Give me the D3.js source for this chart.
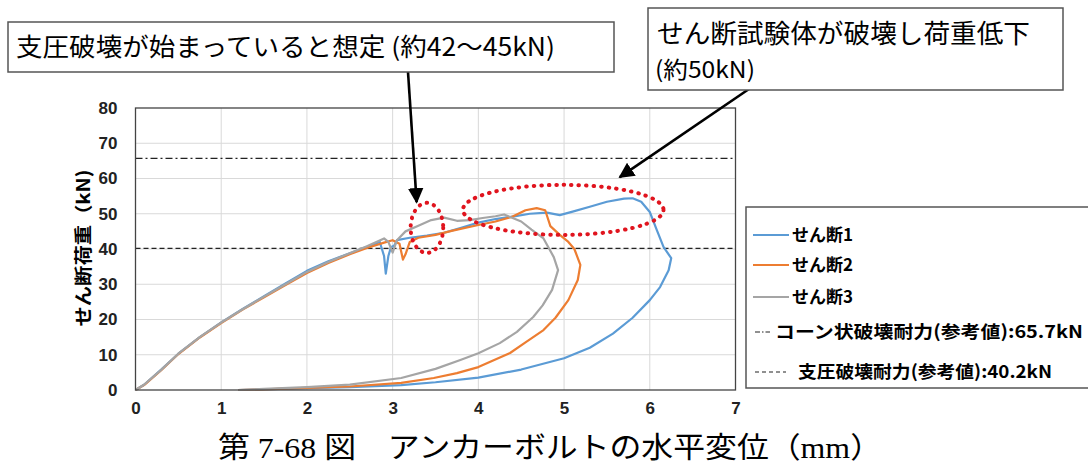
<!DOCTYPE html>
<html lang="ja">
<head>
<meta charset="UTF-8">
<title>アンカーボルトの水平変位</title>
<script src="https://d3js.org/d3.v7.min.js"></script>
<style>
  body { margin: 0; background: #fff; }
  .tick text { font-family: "Liberation Sans Narrow", "Liberation Sans", Arial, sans-serif; font-weight: bold; font-size: 17px; fill: #222; }
  .grid line { stroke: #d9d9d9; stroke-width: 1px; }
  .jp { font-family: "Noto Sans CJK JP", sans-serif; }
</style>
</head>
<body>
<div id="chart"></div>
<script>
// data: [displacement mm, load kN]
const series1 = [[0,0],[0.1,1.5],[0.3,5.8],[0.5,10.3],[0.75,15],[1.0,19.2],[1.25,23],[1.5,26.6],[1.75,30.2],[2.0,33.8],[2.25,36.5],[2.5,38.8],[2.7,40.6],[2.85,42],[2.9,38],[2.92,33],[2.95,38],[2.98,40.5],[3.02,41],[3.05,42.5],[3.2,43.2],[3.4,43.8],[3.6,44.6],[3.8,46],[4.0,47.5],[4.2,48.5],[4.4,49.2],[4.6,50],[4.8,50.3],[4.95,49.6],[5.1,50.6],[5.3,52],[5.5,53.4],[5.7,54.3],[5.8,54.4],[5.9,53.4],[6.0,50.5],[6.08,45.5],[6.16,40.6],[6.25,37.4],[6.22,34],[6.12,29.2],[6.0,25.5],[5.8,20.5],[5.57,16],[5.3,12],[5.0,9],[4.5,5.8],[4.0,3.5],[3.5,2.2],[3.1,1.4],[2.5,0.8],[2.0,0.5],[1.5,0.2],[1.2,0]];
const series2 = [[0,0],[0.1,1.4],[0.3,5.6],[0.5,10.2],[0.75,14.9],[1.0,19],[1.25,22.8],[1.5,26.3],[1.75,29.8],[2.0,33.2],[2.25,36],[2.5,38.5],[2.7,40.3],[2.9,41.8],[3.0,42.5],[3.08,41.5],[3.12,37],[3.15,38.5],[3.2,42],[3.3,43.2],[3.5,44],[3.7,45.2],[4.0,46.8],[4.2,47.8],[4.4,49.2],[4.55,51],[4.68,51.6],[4.78,51],[4.84,46.5],[4.95,44],[5.05,42],[5.12,40],[5.19,35.5],[5.16,31.2],[5.05,25.5],[4.9,20.5],[4.76,17],[4.55,13.5],[4.37,10.5],[4.0,6.5],[3.75,4.8],[3.48,3.4],[3.1,2],[2.5,1.0],[2.0,0.6],[1.5,0.2],[1.2,0]];
const series3 = [[0,0],[0.1,1.5],[0.3,5.7],[0.5,10.3],[0.75,15],[1.0,19.1],[1.25,22.9],[1.5,26.5],[1.75,30],[2.0,33.5],[2.25,36.3],[2.5,38.8],[2.7,40.8],[2.9,43],[2.95,42],[3.0,39],[3.05,42.5],[3.15,45],[3.3,46.6],[3.45,48.2],[3.6,48.9],[3.75,48],[3.9,48.2],[4.05,48.8],[4.2,49.3],[4.3,49.8],[4.4,48.8],[4.5,47.8],[4.62,45.5],[4.76,43],[4.88,37.7],[4.93,34],[4.86,28.4],[4.75,24],[4.64,20.7],[4.45,16.5],[4.25,13.3],[4.0,10.4],[3.79,8.5],[3.5,6],[3.1,3.4],[2.5,1.5],[2.0,0.8],[1.5,0.3],[1.2,0]];
const seriesNames = ["せん断1", "せん断2", "せん断3"];
const seriesColors = ["#5b9bd5", "#ed7d31", "#a5a5a5"];
const xTicks = [0,1,2,3,4,5,6,7];
const yTicks = [0,10,20,30,40,50,60,70,80];
const coneLoad = 65.7;     // コーン状破壊耐力
const bearingLoad = 40.2;  // 支圧破壊耐力

const width = 1088, height = 471;
const plot = { left: 135.5, right: 735.5, top: 108, bottom: 390 };

const svg = d3.select("#chart").append("svg")
    .attr("width", width).attr("height", height)
    .style("display", "block");
svg.append("rect").attr("width", width).attr("height", height).attr("fill", "#fff");

const x = d3.scaleLinear().domain([0, 7]).range([plot.left, plot.right]);
const y = d3.scaleLinear().domain([0, 80]).range([plot.bottom, plot.top]);

// grid
const grid = svg.append("g").attr("class", "grid");
grid.selectAll(".gx").data(xTicks.slice(1, -1)).enter().append("line")
    .attr("x1", d => x(d)).attr("x2", d => x(d))
    .attr("y1", plot.top).attr("y2", plot.bottom);
grid.selectAll(".gy").data(yTicks.slice(1, -1)).enter().append("line")
    .attr("x1", plot.left).attr("x2", plot.right)
    .attr("y1", d => y(d)).attr("y2", d => y(d));

// axes
svg.append("g")
    .attr("transform", `translate(0,${plot.bottom})`)
    .call(d3.axisBottom(x).tickValues(xTicks).tickFormat(d3.format("d")).tickSize(0).tickPadding(12))
    .call(g => g.select(".domain").remove());
svg.append("g")
    .attr("transform", `translate(${plot.left},0)`)
    .call(d3.axisLeft(y).tickValues(yTicks).tickFormat(d3.format("d")).tickSize(0).tickPadding(18))
    .call(g => g.select(".domain").remove());

// reference lines
svg.append("line")
    .attr("x1", plot.left).attr("x2", plot.right)
    .attr("y1", y(coneLoad)).attr("y2", y(coneLoad))
    .attr("stroke", "#222").attr("stroke-width", 1.2)
    .attr("stroke-dasharray", "7,3,2,3");
svg.append("line")
    .attr("x1", plot.left).attr("x2", plot.right)
    .attr("y1", y(bearingLoad)).attr("y2", y(bearingLoad))
    .attr("stroke", "#222").attr("stroke-width", 1.2)
    .attr("stroke-dasharray", "5,3");

// series
const line = d3.line().x(d => x(d[0])).y(d => y(d[1]));
[series1, series2, series3].forEach((s, i) => {
    svg.append("path")
        .attr("d", line(s))
        .attr("fill", "none")
        .attr("stroke", seriesColors[i])
        .attr("stroke-width", 2.2)
        .attr("stroke-linejoin", "round");
});

// plot frame
svg.append("rect")
    .attr("x", plot.left).attr("y", plot.top)
    .attr("width", plot.right - plot.left).attr("height", plot.bottom - plot.top)
    .attr("fill", "none").attr("stroke", "#444").attr("stroke-width", 1.3);

// y axis title
svg.append("text")
    .attr("class", "jp")
    .attr("transform", `translate(90,248) rotate(-90)`)
    .attr("text-anchor", "middle")
    .attr("textLength", 157).attr("lengthAdjust", "spacingAndGlyphs")
    .style("font-size", "18px").style("font-weight", "bold")
    .text("せん断荷重（kN)");

// red dotted ellipses
const dotted = (cx, cy, rx, ry) => svg.append("ellipse")
    .attr("cx", x(cx)).attr("cy", y(cy))
    .attr("rx", x(cx + rx) - x(cx)).attr("ry", y(cy) - y(cy + ry))
    .attr("fill", "none").attr("stroke", "#e0141e")
    .attr("stroke-width", 4).attr("stroke-linecap", "round")
    .attr("stroke-dasharray", "0.5,7");
dotted(3.40, 46, 0.19, 7.1);
dotted(4.99, 51.1, 1.17, 7.1);

// arrows
const defs = svg.append("defs");
defs.append("marker").attr("id", "head")
    .attr("viewBox", "0 0 10 10").attr("refX", 9).attr("refY", 5)
    .attr("markerWidth", 6).attr("markerHeight", 6)
    .attr("markerUnits", "strokeWidth").attr("orient", "auto")
  .append("path").attr("d", "M0,0 L10,5 L0,10 z").attr("fill", "#000");
svg.append("line")
    .attr("x1", 408).attr("y1", 72).attr("x2", x(3.28)).attr("y2", y(53.3))
    .attr("stroke", "#000").attr("stroke-width", 2.6).attr("marker-end", "url(#head)");
svg.append("line")
    .attr("x1", 749).attr("y1", 89).attr("x2", x(5.65)).attr("y2", y(60.4))
    .attr("stroke", "#000").attr("stroke-width", 2.6).attr("marker-end", "url(#head)");

// annotation boxes
svg.append("rect").attr("x", 8).attr("y", 22).attr("width", 606).attr("height", 50)
    .attr("fill", "#fff").attr("stroke", "#555").attr("stroke-width", 1.5);
svg.append("text").attr("class", "jp")
    .attr("x", 16).attr("y", 56)
    .attr("textLength", 539).attr("lengthAdjust", "spacingAndGlyphs")
    .style("font-size", "25px")
    .text("支圧破壊が始まっていると想定 (約42～45kN)");

svg.append("rect").attr("x", 648).attr("y", 8).attr("width", 415).attr("height", 82)
    .attr("fill", "#fff").attr("stroke", "#555").attr("stroke-width", 1.5);
svg.append("text").attr("class", "jp")
    .attr("x", 657).attr("y", 43)
    .attr("textLength", 373).attr("lengthAdjust", "spacingAndGlyphs")
    .style("font-size", "26px")
    .text("せん断試験体が破壊し荷重低下");
svg.append("text").attr("class", "jp")
    .attr("x", 655).attr("y", 78)
    .attr("textLength", 100).attr("lengthAdjust", "spacingAndGlyphs")
    .style("font-size", "23px")
    .text("(約50kN)");

// legend
const legend = svg.append("g");
legend.append("rect").attr("x", 746).attr("y", 207).attr("width", 360).attr("height", 181)
    .attr("fill", "#fff").attr("stroke", "#555").attr("stroke-width", 1.5);
const legendRows = [
    { label: seriesNames[0], color: seriesColors[0], dash: null, y: 235, x0: 753, x1: 789, tx: 792, len: 61 },
    { label: seriesNames[1], color: seriesColors[1], dash: null, y: 265, x0: 753, x1: 789, tx: 792, len: 61 },
    { label: seriesNames[2], color: seriesColors[2], dash: null, y: 297, x0: 753, x1: 789, tx: 792, len: 61 },
    { label: "コーン状破壊耐力(参考値):65.7kN", color: "#222", dash: "5,2,1.5,2", y: 332, x0: 755, x1: 770, tx: 775, len: 308 },
    { label: "支圧破壊耐力(参考値):40.2kN", color: "#222", dash: "4,3", y: 372, x0: 755, x1: 786, tx: 798, len: 254 }
];
legendRows.forEach((r, i) => {
    legend.append("line")
        .attr("x1", r.x0).attr("x2", r.x1)
        .attr("y1", r.y).attr("y2", r.y)
        .attr("stroke", r.color).attr("stroke-width", i < 3 ? 2.2 : 1.2)
        .attr("stroke-dasharray", r.dash);
    legend.append("text").attr("class", "jp")
        .attr("x", r.tx).attr("y", r.y + 6)
        .attr("textLength", r.len).attr("lengthAdjust", "spacingAndGlyphs")
        .style("font-size", "17.5px").style("font-weight", "bold")
        .text(r.label);
});

// caption
svg.append("text")
    .attr("x", 218).attr("y", 458)
    .attr("textLength", 664).attr("lengthAdjust", "spacingAndGlyphs")
    .style("font-family", "\"Liberation Serif\", \"Noto Sans CJK JP\", serif")
    .style("font-size", "29px")
    .text("第 7-68 図　アンカーボルトの水平変位（mm）");
</script>
</body>
</html>
